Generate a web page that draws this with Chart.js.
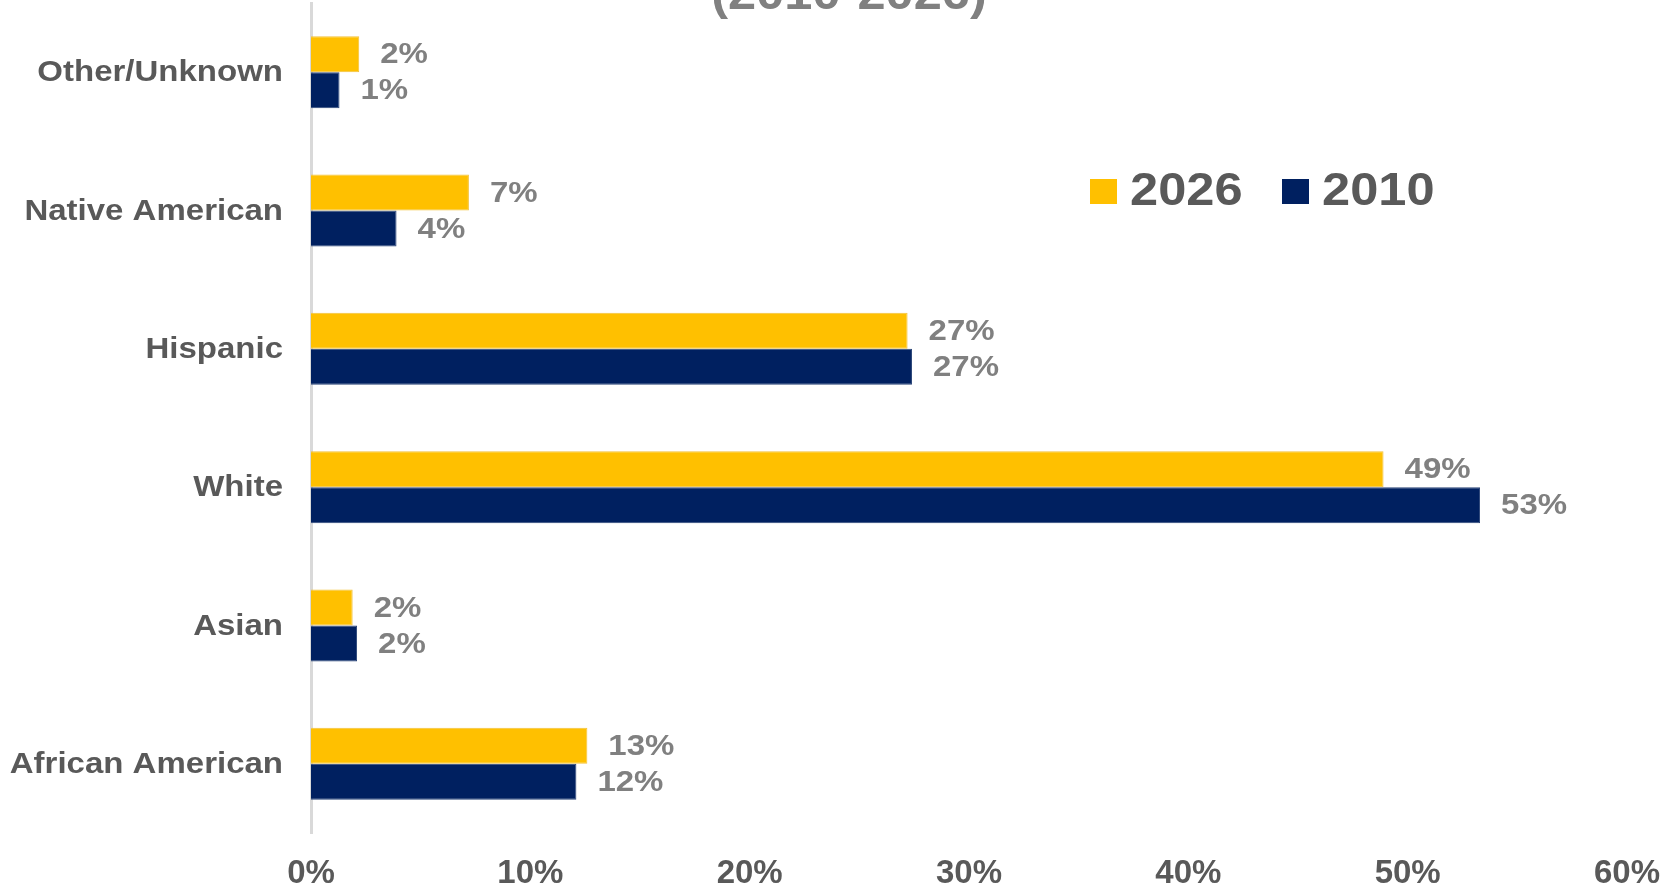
<!DOCTYPE html>
<html lang="en">
<head>
    <meta charset="UTF-8">
    <title>Population by Race/Ethnicity (2010-2026)</title>
    <script src="https://cdn.jsdelivr.net/npm/chart.js"></script>
    <style>
        body {
            margin: 0;
            background: #ffffff;
        }
        #wrap {
            width: 1665px;
            height: 887px;
        }
    </style>
</head>
<body>
    <div id="wrap">
        <canvas id="chart" width="1665" height="887"></canvas>
    </div>

    <script>
        // categories, top to bottom
        const groups = ['Other/Unknown', 'Native American', 'Hispanic', 'White', 'Asian', 'African American'];
        // share of population, percent
        const share2026 = [2.2, 7.2, 27.2, 48.9, 1.9, 12.6];
        const share2010 = [1.3, 3.9, 27.4, 53.3, 2.1, 12.1];
        const seriesNames = ['2026', '2010'];
        const xTicks = [0, 10, 20, 30, 40, 50, 60];
        const titleText = '(2010-2026)';

        const gold = '#FFC000';
        const navy = '#002060';
        const darkGray = '#595959';
        const midGray = '#808080';
        const FONT = '"Liberation Sans", Arial, sans-serif';

        // the original text is a little wider than plain Arial, so stretch it
        function wideText(ctx, text, x, y, stretch) {
            ctx.save();
            ctx.translate(x, y);
            ctx.scale(stretch, 1);
            ctx.fillText(text, 0, 0);
            ctx.restore();
        }

        // category names, right aligned against the axis
        const groupLabels = {
            id: 'groupLabels',
            afterDraw(chart) {
                const ctx = chart.ctx;
                const y = chart.scales.y;
                ctx.save();
                ctx.font = 'bold 30px ' + FONT;
                ctx.fillStyle = darkGray;
                ctx.textAlign = 'right';
                ctx.textBaseline = 'middle';
                groups.forEach((g, i) => {
                    wideText(ctx, g, y.right - 28, y.getPixelForValue(i) + 1, 1.1);
                });
                ctx.restore();
            }
        };

        // bar value labels, just past the end of each bar
        const valueLabels = {
            id: 'valueLabels',
            afterDatasetsDraw(chart) {
                const ctx = chart.ctx;
                ctx.save();
                ctx.font = 'bold 30px ' + FONT;
                ctx.fillStyle = midGray;
                ctx.textAlign = 'left';
                ctx.textBaseline = 'middle';
                chart.data.datasets.forEach((ds, i) => {
                    chart.getDatasetMeta(i).data.forEach((bar, j) => {
                        wideText(ctx, Math.round(ds.data[j]) + '%', bar.x + 21, bar.y + 1, 1.1);
                    });
                });
                ctx.restore();
            }
        };

        // legend sits inside the plot, right of Native American
        const innerLegend = {
            id: 'innerLegend',
            afterDraw(chart) {
                const ctx = chart.ctx;
                ctx.save();
                ctx.font = 'bold 46px ' + FONT;
                ctx.textBaseline = 'middle';
                let x = 1090;
                const y = 191;
                chart.data.datasets.forEach(ds => {
                    ctx.fillStyle = ds.backgroundColor;
                    ctx.fillRect(x, y - 12, 27, 25);
                    ctx.fillStyle = darkGray;
                    wideText(ctx, ds.label, x + 40, y + 1, 1.1);
                    x += 192;
                });
                ctx.restore();
            }
        };

        // title runs off the top edge in the original
        const clippedTitle = {
            id: 'clippedTitle',
            afterDraw(chart) {
                const ctx = chart.ctx;
                ctx.save();
                ctx.font = 'bold 46px ' + FONT;
                ctx.fillStyle = midGray;
                ctx.textAlign = 'center';
                ctx.textBaseline = 'alphabetic';
                wideText(ctx, titleText, 849, 9, 1.1);
                ctx.restore();
            }
        };

        const ctx = document.getElementById('chart').getContext('2d');
        const chart = new Chart(ctx, {
            type: 'bar',
            data: {
                labels: groups,
                datasets: [
                    {
                        label: seriesNames[0],
                        data: share2026,
                        backgroundColor: gold,
                        borderColor: '#f2c23a',
                        borderWidth: 1
                    },
                    {
                        label: seriesNames[1],
                        data: share2010,
                        backgroundColor: navy,
                        borderColor: '#2a4478',
                        borderWidth: 1
                    }
                ]
            },
            options: {
                indexAxis: 'y',
                responsive: false,
                animation: false,
                layout: {
                    padding: { top: 3, right: 38, left: 0, bottom: 0 }
                },
                categoryPercentage: 0.52,
                barPercentage: 1.0,
                plugins: {
                    legend: { display: false },
                    title: { display: false },
                    tooltip: { enabled: false }
                },
                scales: {
                    x: {
                        min: 0,
                        max: 60,
                        afterFit(scale) {
                            scale.height = 54;
                            scale.paddingLeft = 0;
                            scale.paddingRight = 0;
                        },
                        afterBuildTicks(scale) {
                            scale.ticks = xTicks.map(v => ({ value: v }));
                        },
                        grid: { display: false, drawTicks: false },
                        border: { display: false },
                        ticks: {
                            padding: 21,
                            color: darkGray,
                            font: { family: FONT, size: 33, weight: 'bold' },
                            callback: v => v + '%'
                        }
                    },
                    y: {
                        afterFit(scale) {
                            scale.width = 311;
                            scale.paddingTop = 0;
                            scale.paddingBottom = 0;
                        },
                        grid: { display: false, drawTicks: false },
                        border: { display: true, color: '#d9d9d9', width: 3 },
                        ticks: { display: false }
                    }
                }
            },
            plugins: [groupLabels, valueLabels, innerLegend, clippedTitle]
        });
    </script>
</body>
</html>
